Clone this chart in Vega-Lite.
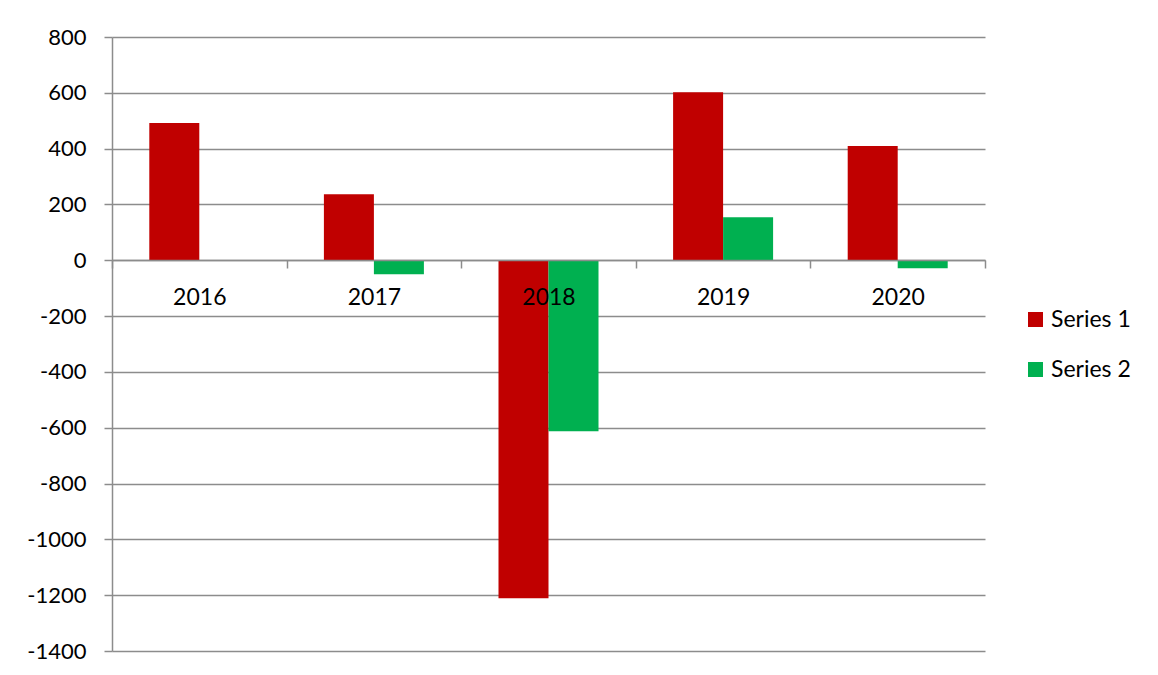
{
  "$schema": "https://vega.github.io/schema/vega-lite/v6.json",
  "width": 873,
  "height": 614,
  "autosize": {"type": "none"},
  "padding": {"left": 112, "top": 37, "right": 173, "bottom": 24},
  "background": "white",
  "config": {
    "view": {"stroke": null},
    "font": "Lato",
    "axis": {"labelFont": "Lato", "labelColor": "#000000"}
  },
  "data": {
    "values": [
      {"year": "2016", "series": "Series 1", "value": 492},
      {"year": "2017", "series": "Series 1", "value": 237},
      {"year": "2017", "series": "Series 2", "value": -50},
      {"year": "2018", "series": "Series 1", "value": -1211},
      {"year": "2018", "series": "Series 2", "value": -613},
      {"year": "2019", "series": "Series 1", "value": 602},
      {"year": "2019", "series": "Series 2", "value": 154},
      {"year": "2020", "series": "Series 1", "value": 409},
      {"year": "2020", "series": "Series 2", "value": -29}
    ]
  },
  "mark": {"type": "bar"},
  "encoding": {
    "x": {
      "field": "year",
      "type": "nominal",
      "sort": null,
      "scale": {"paddingInner": 0, "paddingOuter": 0},
      "axis": {
        "title": null,
        "labelAngle": 0,
        "offset": -391,
        "zindex": 1,
        "tickBand": "extent",
        "tickSize": 8,
        "tickColor": "#8c8c8c",
        "tickWidth": 1.5,
        "domainColor": "#8c8c8c",
        "domainWidth": 1.5,
        "labelFontSize": 23,
        "labelPadding": 18,
        "grid": false
      }
    },
    "xOffset": {
      "field": "series",
      "type": "nominal",
      "scale": {"paddingInner": 0, "paddingOuter": 0.746}
    },
    "y": {
      "field": "value",
      "type": "quantitative",
      "scale": {"domain": [-1400, 800], "nice": false, "zero": false},
      "axis": {
        "title": null,
        "values": [-1400, -1200, -1000, -800, -600, -400, -200, 0, 200, 400, 600, 800],
        "labelExpr": "'' + datum.value",
        "grid": true,
        "gridColor": "#8c8c8c",
        "gridWidth": 1.5,
        "tickSize": 8,
        "tickColor": "#8c8c8c",
        "tickWidth": 1.5,
        "domainColor": "#8c8c8c",
        "domainWidth": 1.5,
        "labelFontSize": 22,
        "labelPadding": 18
      }
    },
    "color": {
      "field": "series",
      "type": "nominal",
      "scale": {"domain": ["Series 1", "Series 2"], "range": ["#C00000", "#00B050"]},
      "legend": {
        "title": null,
        "orient": "none",
        "legendX": 912,
        "legendY": 271,
        "symbolType": "square",
        "symbolSize": 225,
        "symbolStrokeWidth": 0,
        "labelFontSize": 23,
        "labelFont": "Lato",
        "labelColor": "#000000",
        "rowPadding": 26,
        "labelOffset": 4
      }
    }
  }
}
